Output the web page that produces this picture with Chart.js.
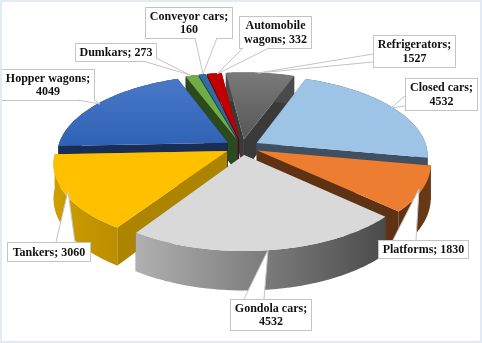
<!DOCTYPE html>
<html>
<head>
<meta charset="utf-8">
<title>Freight wagons</title>
<script src="https://cdn.jsdelivr.net/npm/chart.js@4"></script>
<style>
  html, body { margin: 0; padding: 0; background: #fff; }
  #wrap { position: relative; width: 482px; height: 343px; overflow: hidden; }
  #wrap::after { content: ''; position: absolute; inset: 0; border: 2px solid #e3eaf2; pointer-events: none; }
  canvas { display: block; }
</style>
</head>
<body>
<div id="wrap"><canvas id="wagonChart" width="482" height="343"></canvas></div>
<script>
// Data
const categories = ['Refrigerators', 'Closed cars', 'Platforms', 'Gondola cars', 'Tankers', 'Hopper wagons', 'Dumkars', 'Conveyor cars', 'Automobile wagons'];
const wagonCounts = [1527, 4532, 1830, 4532, 3060, 4049, 273, 160, 332];

// Slice styling
const topColors = ['#7a7a7a', '#9dc3e6', '#ed7d31', '#d9d9d9', '#ffc000', '#4a78c8', '#70ad47', '#2e6ca4', '#c00000'];
const topShade = ['#565656', '#9dc3e6', '#ed7d31', '#d9d9d9', '#ffc000', '#2f62b5', '#70ad47', '#2e6ca4', '#c00000'];
const edgeColors = ['#3a3a3a', '#3f5062', '#5f3213', '#666666', '#ad8400', '#1a2d55', '#2d4a1c', '#1a3a5c', '#6e0000'];
const wallLeft = ['#4a4a4a', '#3f5062', '#5f3213', '#b0b0b0', '#d09e00', '#1a2d55', '#2d4a1c', '#1a3a5c', '#6e0000'];
const wallRight = ['#4a4a4a', '#3f5062', '#6a3a16', '#4b4b4b', '#bb8e00', '#1a2d55', '#2d4a1c', '#1a3a5c', '#6e0000'];

// Callout boxes: [x, y, w, h], wedge base a, wedge base b, tip
const callouts = [
  { box: [373, 35, 82, 32], lines: ['Refrigerators;', '1527'], a: [373, 54], b: [373, 62], tip: [258, 73] },
  { box: [405, 78, 72, 32], lines: ['Closed cars;', '4532'], a: [405, 96], b: [405, 106], tip: [391, 108] },
  { box: [378, 240, 90, 18], lines: ['Platforms; 1830'], a: [393, 240], b: [416, 240], tip: [419, 189] },
  { box: [230, 299, 81, 31], lines: ['Gondola cars;', '4532'], a: [244, 299], b: [264, 299], tip: [268, 250] },
  { box: [7, 242, 83, 19], lines: ['Tankers; 3060'], a: [56, 242], b: [75, 242], tip: [68, 191] },
  { box: [1, 69, 93, 31], lines: ['Hopper wagons;', '4049'], a: [78, 100], b: [94, 100], tip: [100, 104] },
  { box: [75, 43, 81, 18], lines: ['Dumkars; 273'], a: [143, 61], b: [156, 58], tip: [190, 75] },
  { box: [145, 7, 87, 31], lines: ['Conveyor cars;', '160'], a: [195, 38], b: [217, 38], tip: [203, 74] },
  { box: [239, 16, 72, 32], lines: ['Automobile', 'wagons; 332'], a: [243, 48], b: [269, 48], tip: [217, 74] }
];

// Tilted pie view: disc coordinates to screen
const view = { cx: 242, cy: 147, ax: 170, ay: 79, persp: 0.15, depth: 33 };

function project(u, v) {
  const w = 1 + view.persp * v;
  return { x: view.cx + view.ax * u / w, y: view.cy - view.ay * v / w, depth: view.depth / w };
}

function slicePoints(arc) {
  const R = arc.outerRadius;
  const mid = (arc.startAngle + arc.endAngle) / 2;
  const off = arc.options.offset / R;
  const ox = Math.cos(mid) * off;
  const oy = -Math.sin(mid) * off;
  const rim = [];
  const steps = Math.max(2, Math.ceil((arc.endAngle - arc.startAngle) * 60));
  for (let i = 0; i <= steps; i++) {
    const a = arc.startAngle + (arc.endAngle - arc.startAngle) * i / steps;
    rim.push(project(ox + Math.cos(a), oy - Math.sin(a)));
  }
  return { apex: project(ox, oy), rim: rim };
}

function tracePath(ctx, pts) {
  ctx.beginPath();
  pts.forEach((p, i) => i ? ctx.lineTo(p.x, p.y) : ctx.moveTo(p.x, p.y));
  ctx.closePath();
}

function down(p) {
  return { x: p.x, y: p.y + p.depth };
}

const tiltedPie = {
  id: 'tiltedPie',
  beforeDatasetDraw(chart) {
    const ctx = chart.ctx;
    const arcs = chart.getDatasetMeta(0).data;
    // back slices first
    const order = arcs.map((arc, i) => i).sort((a, b) => {
      const ma = (arcs[a].startAngle + arcs[a].endAngle) / 2;
      const mb = (arcs[b].startAngle + arcs[b].endAngle) / 2;
      return Math.sin(ma) - Math.sin(mb);
    });
    order.forEach(i => {
      const s = slicePoints(arcs[i]);
      const first = s.rim[0];
      const last = s.rim[s.rim.length - 1];

      ctx.fillStyle = edgeColors[i];
      tracePath(ctx, [s.apex, first, down(first), down(s.apex)]);
      ctx.fill();
      tracePath(ctx, [s.apex, last, down(last), down(s.apex)]);
      ctx.fill();

      const xs = s.rim.map(p => p.x);
      const wall = ctx.createLinearGradient(Math.min(...xs), 0, Math.max(...xs), 0);
      wall.addColorStop(0, wallLeft[i]);
      wall.addColorStop(1, wallRight[i]);
      ctx.fillStyle = wall;
      tracePath(ctx, s.rim.concat(s.rim.slice().reverse().map(down)));
      ctx.fill();

      const ys = s.rim.concat([s.apex]).map(p => p.y);
      const top = ctx.createLinearGradient(0, Math.min(...ys), 0, Math.max(...ys));
      top.addColorStop(0, arcs[i].options.backgroundColor);
      top.addColorStop(1, topShade[i]);
      ctx.fillStyle = top;
      tracePath(ctx, [s.apex].concat(s.rim));
      ctx.fill();
    });
    return false;
  },
  afterDatasetsDraw(chart) {
    const ctx = chart.ctx;
    ctx.save();
    ctx.font = 'bold 12px "Liberation Serif"';
    ctx.textAlign = 'center';
    ctx.textBaseline = 'middle';
    callouts.forEach(c => {
      const [x, y, w, h] = c.box;
      ctx.fillStyle = '#fff';
      ctx.strokeStyle = '#c4c4c4';
      ctx.lineWidth = 1;
      ctx.fillRect(x, y, w, h);
      ctx.strokeRect(x + 0.5, y + 0.5, w, h);
      ctx.beginPath();
      ctx.moveTo(c.a[0], c.a[1]);
      ctx.lineTo(c.tip[0], c.tip[1]);
      ctx.lineTo(c.b[0], c.b[1]);
      ctx.closePath();
      ctx.fill();
      ctx.beginPath();
      ctx.moveTo(c.a[0], c.a[1]);
      ctx.lineTo(c.tip[0], c.tip[1]);
      ctx.lineTo(c.b[0], c.b[1]);
      ctx.stroke();
      ctx.fillStyle = '#111';
      c.lines.forEach((line, k) => {
        ctx.fillText(line, x + w / 2 + 0.5, y + h / 2 + 1 + (k - (c.lines.length - 1) / 2) * 13.5);
      });
    });
    ctx.restore();
  }
};

new Chart(document.getElementById('wagonChart'), {
  type: 'pie',
  data: {
    labels: categories,
    datasets: [{
      data: wagonCounts,
      backgroundColor: topColors,
      borderWidth: 0,
      offset: 10,
      hoverOffset: 0
    }]
  },
  options: {
    responsive: false,
    animation: false,
    rotation: -7,
    radius: 100,
    layout: { padding: 0 },
    plugins: {
      legend: { display: false },
      tooltip: { enabled: false }
    }
  },
  plugins: [tiltedPie]
});
</script>
</body>
</html>
